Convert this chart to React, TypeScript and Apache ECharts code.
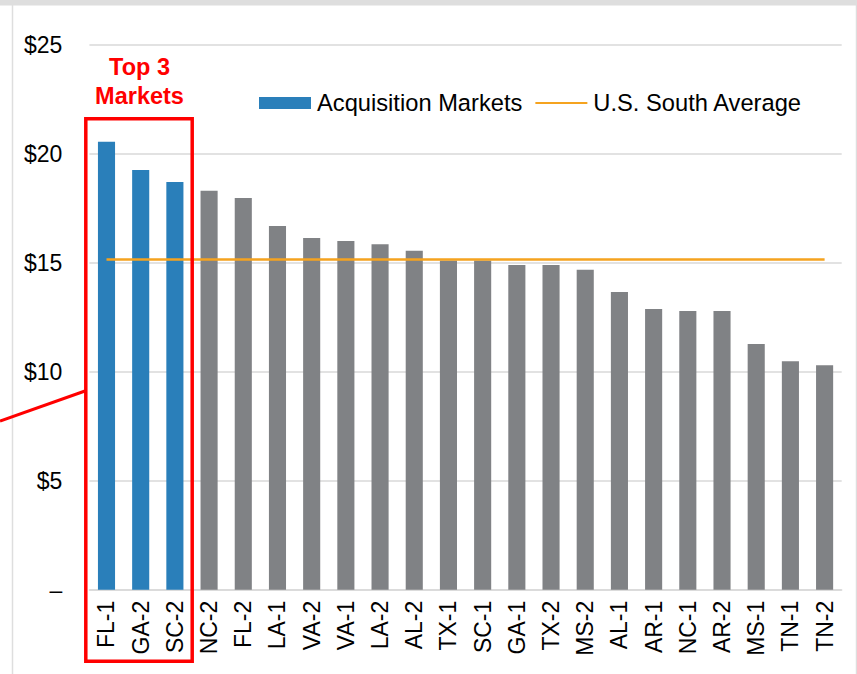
import React, { useEffect, useRef } from "react";
import * as echarts from "echarts";

const categories = ["FL-1", "GA-2", "SC-2", "NC-2", "FL-2", "LA-1", "VA-2", "VA-1", "LA-2", "AL-2", "TX-1", "SC-1", "GA-1", "TX-2", "MS-2", "AL-1", "AR-1", "NC-1", "AR-2", "MS-1", "TN-1", "TN-2"];
const rentValues = [20.55, 19.25, 18.7, 18.3, 17.97, 16.68, 16.13, 15.99, 15.85, 15.55, 15.1, 15.1, 14.89, 14.89, 14.68, 13.66, 12.88, 12.78, 12.78, 11.27, 10.48, 10.3];
const topMarketCount = 3;
const southAverage = 15.15;
const yTicks = [0, 5, 10, 15, 20, 25];

const BLUE = "#2A7FBA";
const GREY = "#808285";
const ORANGE = "#F5A31F";
const RED = "#FF0000";
const FONT = "'Liberation Sans', Arial, sans-serif";

export default function App() {
  const ref = useRef<HTMLDivElement>(null);
  useEffect(() => {
    document.body.style.margin = "0";
    const chart = echarts.init(ref.current!, null, { renderer: "svg" });
    const option = {
      animation: false,
      backgroundColor: "#ffffff",
      textStyle: { fontFamily: FONT },
      grid: { left: 89.4, right: 15.3, top: 44.7, bottom: 84.3, containLabel: false },
      legend: {
        left: 259,
        top: 91,
        padding: 0,
        itemWidth: 52,
        itemHeight: 12,
        itemGap: 12,
        textStyle: { fontSize: 23.7, color: "#000", fontFamily: FONT, padding: [0, 0, 0, 1] },
        data: [
          { name: "Acquisition Markets", icon: "rect" },
          { name: "U.S. South Average", itemStyle: { opacity: 0 } },
        ],
      },
      xAxis: {
        type: "category",
        data: categories,
        boundaryGap: true,
        axisLine: { show: true, lineStyle: { color: "#d9d9d9", width: 1.5 } },
        axisTick: { show: false },
        axisLabel: { rotate: 90, fontSize: 23, color: "#000", margin: 11, fontFamily: FONT, interval: 0 },
      },
      yAxis: {
        type: "value",
        min: yTicks[0],
        max: yTicks[yTicks.length - 1],
        interval: 5,
        axisLine: { show: false },
        axisTick: { show: false },
        splitLine: { lineStyle: { color: "#d9d9d9", width: 1.5 } },
        axisLabel: {
          fontSize: 23,
          color: "#000",
          margin: 27,
          fontFamily: FONT,
          formatter: (v: number) => (v === 0 ? "–" : "$" + v),
        },
      },
      series: [
        {
          name: "Acquisition Markets",
          type: "bar",
          barWidth: "50%",
          itemStyle: { color: BLUE },
          data: rentValues.map((v, i) => ({ value: v, itemStyle: { color: i < topMarketCount ? BLUE : GREY } })),
        },
        {
          name: "U.S. South Average",
          type: "line",
          symbol: "none",
          lineStyle: { color: ORANGE, width: 2.5 },
          itemStyle: { color: ORANGE },
          data: categories.map(() => southAverage),
          z: 5,
        },
      ],
      graphic: [
        { type: "rect", shape: { x: 0, y: 0, width: 857, height: 5.5 }, style: { fill: "#dedede" }, z: 100 },
        { type: "line", shape: { x1: 12.5, y1: 5, x2: 12.5, y2: 674 }, style: { stroke: "#dedede", lineWidth: 1.5 }, z: 100 },
        { type: "line", shape: { x1: 856.5, y1: 5, x2: 856.5, y2: 674 }, style: { stroke: "#dedede", lineWidth: 1.5 }, z: 100 },
        {
          type: "rect",
          shape: { x: 85.8, y: 118.8, width: 106.4, height: 542.4 },
          style: { fill: "none", stroke: RED, lineWidth: 3.5 },
          z: 100,
        },
        { type: "line", shape: { x1: 0, y1: 421, x2: 85, y2: 391 }, style: { stroke: RED, lineWidth: 3 }, z: 100 },
        {
          type: "text",
          x: 139.5,
          y: 67,
          style: { text: "Top 3", fill: RED, font: `bold 23.5px ${FONT}`, align: "center", verticalAlign: "middle" },
          z: 100,
        },
        {
          type: "text",
          x: 139.5,
          y: 96,
          style: { text: "Markets", fill: RED, font: `bold 23.5px ${FONT}`, align: "center", verticalAlign: "middle" },
          z: 100,
        },
      ],
    };
    chart.setOption(option as any);
    return () => chart.dispose();
  }, []);
  return <div ref={ref} style={{ position: "absolute", left: 0, top: 0, width: 857, height: 674 }} />;
}
